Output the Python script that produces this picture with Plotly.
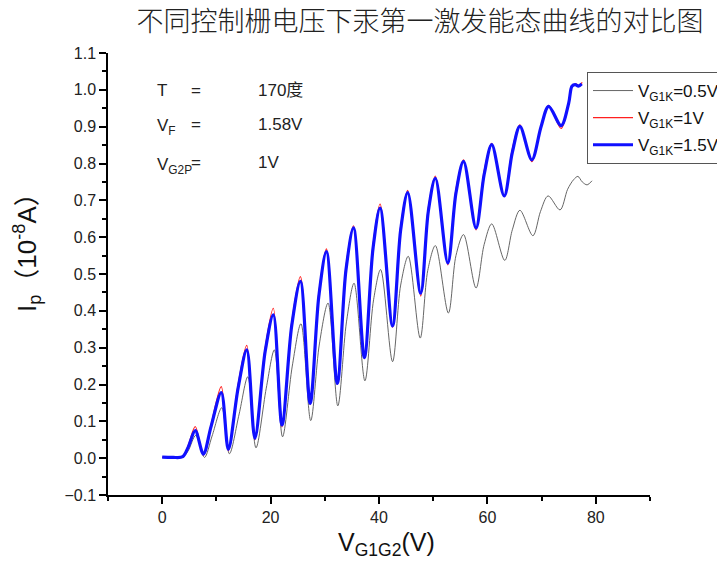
import plotly.graph_objects as go

# ---- data ----
x_05 = [0, 2, 3.8, 4.8, 6.2, 7.8, 9.2, 11.0, 12.4, 14.2, 15.8, 17.3, 19.2, 20.7, 22.2,
        24.0, 25.6, 27.4, 29.0, 30.6, 32.4, 34.0, 35.4, 37.4, 39.0, 40.3, 42.5, 44.0,
        45.4, 47.6, 49.0, 50.4, 52.8, 54.2, 55.6, 57.9, 59.4, 60.8, 63.2, 64.6, 66.0,
        68.4, 69.8, 71.2, 73.4, 74.8, 75.9, 76.7, 77.5, 78.4, 79.3]
y_05 = [0.002, 0.001, 0.003, 0.02, 0.062, 0.002, 0.06, 0.137, 0.012, 0.12, 0.221, 0.028,
        0.19, 0.294, 0.058, 0.25, 0.365, 0.102, 0.31, 0.421, 0.142, 0.37, 0.475, 0.21,
        0.43, 0.512, 0.262, 0.47, 0.548, 0.326, 0.51, 0.577, 0.394, 0.55, 0.607, 0.462,
        0.58, 0.636, 0.537, 0.62, 0.673, 0.604, 0.67, 0.712, 0.674, 0.73, 0.756, 0.765,
        0.75, 0.742, 0.753]

x_10 = [0, 2, 3.8, 4.8, 6.1, 7.6, 9.0, 10.9, 12.2, 14.0, 15.6, 17.1, 19.0, 20.5, 22.1,
        23.9, 25.5, 27.3, 28.9, 30.3, 32.3, 33.9, 35.3, 37.3, 38.9, 40.2, 42.5, 44.0,
        45.3, 47.7, 49.1, 50.4, 52.7, 54.2, 55.6, 57.9, 59.4, 60.8, 63.1, 64.6, 66.0,
        68.2, 69.9, 71.3, 73.6, 75.0, 75.6, 76.3, 76.9, 77.5]
y_10 = [0.003, 0.002, 0.004, 0.035, 0.086, 0.008, 0.09, 0.194, 0.02, 0.2, 0.306, 0.05,
        0.3, 0.407, 0.085, 0.37, 0.493, 0.145, 0.45, 0.568, 0.2, 0.52, 0.631, 0.27,
        0.58, 0.69, 0.355, 0.63, 0.727, 0.44, 0.68, 0.766, 0.525, 0.73, 0.81, 0.62,
        0.78, 0.855, 0.71, 0.84, 0.905, 0.805, 0.9, 0.958, 0.895, 0.962, 1.01, 1.016,
        1.012, 1.02]

x_15 = [0, 2, 3.8, 4.8, 6.1, 7.6, 9.0, 10.9, 12.2, 14.0, 15.6, 17.1, 19.0, 20.5, 22.1,
        23.9, 25.5, 27.3, 28.9, 30.3, 32.3, 33.9, 35.3, 37.3, 38.9, 40.2, 42.5, 44.0,
        45.3, 47.7, 49.1, 50.4, 52.7, 54.2, 55.6, 57.9, 59.4, 60.8, 63.1, 64.6, 66.0,
        68.2, 69.9, 71.3, 73.6, 75.0, 75.6, 76.2, 76.8, 77.4]
y_15 = [0.003, 0.002, 0.004, 0.03, 0.075, 0.011, 0.085, 0.178, 0.024, 0.19, 0.294, 0.054,
        0.29, 0.389, 0.09, 0.36, 0.48, 0.149, 0.44, 0.561, 0.203, 0.51, 0.625, 0.273,
        0.57, 0.679, 0.359, 0.62, 0.721, 0.448, 0.67, 0.76, 0.53, 0.72, 0.806, 0.625,
        0.77, 0.851, 0.712, 0.83, 0.901, 0.81, 0.9, 0.955, 0.903, 0.964, 1.01, 1.014,
        1.01, 1.016]

series_names = ["V<sub>G1K</sub>=0.5V", "V<sub>G1K</sub>=1V", "V<sub>G1K</sub>=1.5V"]
title_text = "不同控制栅电压下汞第一激发能态曲线的对比图"
x_ticks = [0, 20, 40, 60, 80]
y_ticks = [-0.1, 0.0, 0.1, 0.2, 0.3, 0.4, 0.5, 0.6, 0.7, 0.8, 0.9, 1.0, 1.1]

FONT = "Liberation Sans, Arial, Noto Sans CJK SC, sans-serif"

fig = go.Figure()
fig.add_trace(go.Scatter(x=x_05, y=y_05, mode="lines", name=series_names[0],
                         legendgroup="a",
                         line=dict(color="#555555", width=0.9, shape="spline", smoothing=0.9)))
fig.add_trace(go.Scatter(x=x_10, y=y_10, mode="lines", name=series_names[1],
                         legendgroup="b",
                         line=dict(color="#ff2020", width=1.2, shape="spline", smoothing=0.9)))
fig.add_trace(go.Scatter(x=x_15, y=y_15, mode="lines", name=series_names[2],
                         legendgroup="c",
                         line=dict(color="#1010ff", width=3.2, shape="spline", smoothing=0.9)))

axis_common = dict(showline=True, linecolor="black", linewidth=1.5, ticks="outside",
                   ticklen=7, tickwidth=1.5, tickcolor="black", showgrid=False,
                   zeroline=False, mirror=False,
                   tickfont=dict(family=FONT, size=16, color="#222222"))

fig.update_xaxes(range=[-10, 90], tickvals=x_ticks,
                 minor=dict(dtick=10, tick0=0, ticks="outside", ticklen=4,
                            tickwidth=1.5, tickcolor="black", showgrid=False),
                 **axis_common)
fig.update_yaxes(range=[-0.1, 1.1], tickvals=y_ticks, tickformat=".1f",
                 minor=dict(dtick=0.05, tick0=0, ticks="outside", ticklen=4,
                            tickwidth=1.5, tickcolor="black", showgrid=False),
                 **axis_common)

def px2paper_x(px):
    return (px - 108) / 542.0

def px2paper_y(py):
    return (495 - py) / 442.0

ann_font = dict(family=FONT, size=17, color="#222222")
annotations = [
    dict(text="T", x=px2paper_x(155), y=px2paper_y(90)),
    dict(text="=", x=px2paper_x(189), y=px2paper_y(90)),
    dict(text="170度", x=px2paper_x(256), y=px2paper_y(90)),
    dict(text="V<sub>F</sub>", x=px2paper_x(155), y=px2paper_y(127)),
    dict(text="=", x=px2paper_x(189), y=px2paper_y(124)),
    dict(text="1.58V", x=px2paper_x(256), y=px2paper_y(124)),
    dict(text="V<sub>G2P</sub>", x=px2paper_x(155), y=px2paper_y(166)),
    dict(text="=", x=px2paper_x(189), y=px2paper_y(162)),
    dict(text="1V", x=px2paper_x(256), y=px2paper_y(162)),
]
for a in annotations:
    a.update(xref="paper", yref="paper", xanchor="left", yanchor="middle",
             showarrow=False, font=ann_font)

# axis titles
annotations.append(dict(text="I<sub>p</sub>（10<sup>-8</sup>A）", xref="paper", yref="paper",
                        x=px2paper_x(27), y=px2paper_y(246), textangle=-90,
                        xanchor="center", yanchor="middle", showarrow=False,
                        font=dict(family=FONT, size=26, color="#111111")))
annotations.append(dict(text="V<sub>G1G2</sub>(V)", xref="paper", yref="paper",
                        x=px2paper_x(386), y=px2paper_y(544),
                        xanchor="center", yanchor="middle", showarrow=False,
                        font=dict(family=FONT, size=25, color="#111111")))

fig.update_layout(
    width=717, height=562,
    margin=dict(l=108, r=67, t=53, b=67, autoexpand=False),
    paper_bgcolor="white", plot_bgcolor="white",
    title=dict(text=title_text, x=420 / 717, xref="container", xanchor="center",
               y=1 - 22 / 562, yref="container", yanchor="middle",
               font=dict(family="Noto Sans CJK SC", size=27, color="#222222", weight=300)),
    showlegend=True,
    legend=dict(x=px2paper_x(587), y=px2paper_y(72), xanchor="left", yanchor="top",
                bordercolor="#555555", borderwidth=1, bgcolor="white",
                font=dict(family=FONT, size=17, color="#111111"),
                itemwidth=40, tracegroupgap=2),
    annotations=annotations,
)

fig.write_html("out.html", config={"displayModeBar": False},
               post_script="document.body.style.margin='0';")
